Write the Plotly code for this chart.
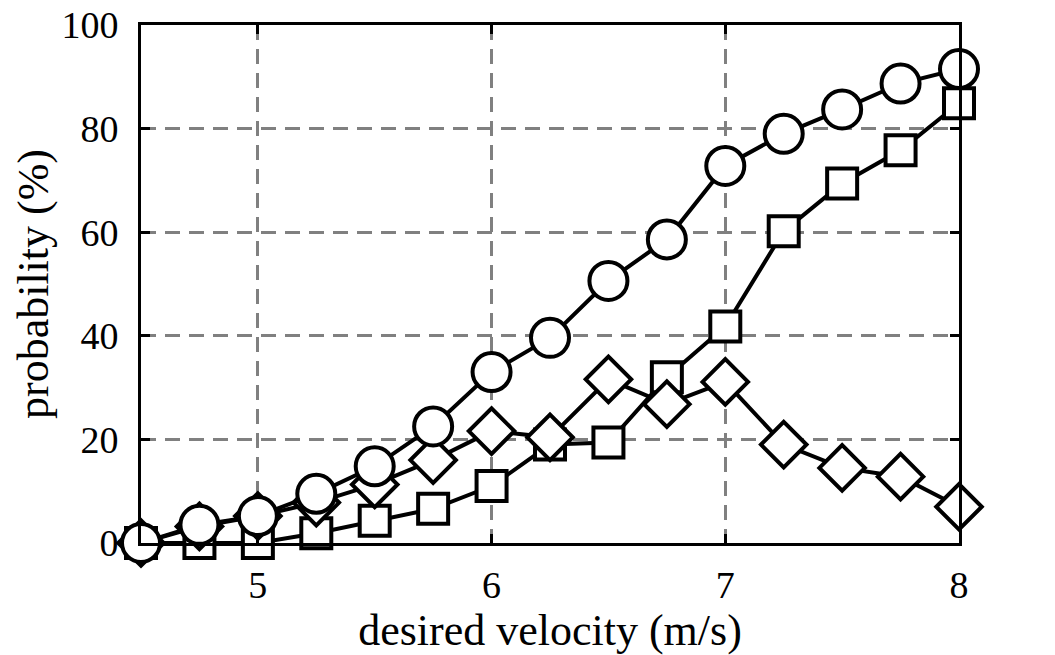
import plotly.graph_objects as go

velocity = [4.5, 4.75, 5.0, 5.25, 5.5, 5.75, 6.0, 6.25, 6.5, 6.75, 7.0, 7.25, 7.5, 7.75, 8.0]
series_square = [0, 0, 0, 1.9, 4.3, 6.6, 11.0, 19.0, 19.4, 32.0, 41.8, 60.2, 69.4, 75.8, 84.9]
series_diamond = [0, 3.2, 5.2, 7.8, 11.3, 16.0, 21.6, 20.4, 31.6, 26.8, 31.1, 19.0, 14.5, 12.8, 7.0]
series_circle = [0, 3.5, 5.2, 9.5, 14.8, 22.5, 33.0, 39.6, 50.6, 58.6, 72.8, 79.0, 83.7, 88.7, 91.5]

x_ticks = [5, 6, 7, 8]
y_ticks = [0, 20, 40, 60, 80, 100]

FONT = "Liberation Serif"

fig = go.Figure()
for name, vals, sym, size in [
    ("square", series_square, "square", 30),
    ("diamond", series_diamond, "diamond", 35),
    ("circle", series_circle, "circle", 38),
]:
    fig.add_trace(go.Scatter(
        x=velocity, y=vals, mode="lines+markers", name=name,
        line=dict(color="black", width=4),
        marker=dict(symbol=sym, size=size, color="white",
                    line=dict(color="black", width=4)),
        cliponaxis=False, showlegend=False,
    ))

axis_common = dict(
    showline=True, linecolor="black", linewidth=3, mirror="ticks",
    ticks="inside", ticklen=9, tickwidth=3, tickcolor="black",
    showgrid=True, gridcolor="#808080", gridwidth=2.5, griddash="15px,9px",
    zeroline=False, automargin=False,
    tickfont=dict(family=FONT, size=38, color="black"),
)

fig.update_layout(
    width=1055, height=655,
    margin=dict(l=141, r=96, t=25, b=112),
    paper_bgcolor="white", plot_bgcolor="white",
    font=dict(family=FONT, color="black"),
    xaxis=dict(range=[4.5, 8], tickvals=x_ticks, ticktext=[str(v) for v in x_ticks],
               ticklabelstandoff=6,
               title=dict(text="desired velocity (m/s)", font=dict(family=FONT, size=44), standoff=2),
               **axis_common),
    yaxis=dict(range=[0, 100], tickvals=y_ticks, ticktext=[str(v) for v in y_ticks],
               ticklabelstandoff=12,
               title=dict(text="probability (%)", font=dict(family=FONT, size=44), standoff=0),
               **axis_common),
)

fig.write_html("out.html")
